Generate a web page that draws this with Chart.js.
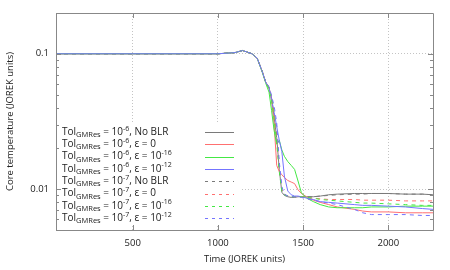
<!DOCTYPE html>
<html>
<head>
<meta charset="utf-8">
<script src="https://cdn.jsdelivr.net/npm/chart.js@4.4.1/dist/chart.umd.min.js"></script>
<style>
  html, body { margin: 0; padding: 0; background: #fff; }
  #wrap { width: 450px; height: 270px; }
</style>
</head>
<body>
<div id="wrap"><canvas id="chart"></canvas></div>
<script>
// time axis (JOREK units), shared by all runs
const time = [50, 1000, 1100, 1145, 1200, 1230, 1260, 1280, 1300, 1315, 1330, 1345, 1360, 1375, 1390, 1410,
    1430, 1450, 1470, 1490, 1520, 1560, 1600, 1650, 1700, 1800, 1850, 1900, 2000, 2100, 2200, 2262];

// Tol_GMRes = 1e-6
const tol6NoBlr = [0.1, 0.1, 0.102, 0.1057, 0.1, 0.093, 0.074, 0.062, 0.056, 0.047, 0.034, 0.024, 0.014, 0.0095, 0.0090, 0.0088,
    0.0087, 0.0087, 0.0088, 0.0088, 0.0088, 0.0088, 0.0089, 0.0091, 0.0092, 0.0093, 0.0093, 0.0093, 0.0093, 0.0092, 0.0092, 0.0091];
const tol6Eps0 = [0.1, 0.1, 0.102, 0.1057, 0.1, 0.093, 0.074, 0.062, 0.056, 0.045, 0.030, 0.015, 0.0135, 0.0128, 0.0122, 0.0116,
    0.0113, 0.0110, 0.0099, 0.0093, 0.0088, 0.0083, 0.0080, 0.0077, 0.0074, 0.0071, 0.0069, 0.0068, 0.0068, 0.0067, 0.0067, 0.0067];
const tol6Eps16 = [0.1, 0.1, 0.102, 0.1057, 0.1, 0.093, 0.073, 0.061, 0.052, 0.038, 0.027, 0.0215, 0.023, 0.0195, 0.0175, 0.0160,
    0.0150, 0.0140, 0.0115, 0.0094, 0.0086, 0.0081, 0.0077, 0.0074, 0.0073, 0.0073, 0.0073, 0.0074, 0.0074, 0.0075, 0.0075, 0.0075];
const tol6Eps12 = [0.1, 0.1, 0.102, 0.1057, 0.1, 0.093, 0.074, 0.062, 0.056, 0.046, 0.037, 0.029, 0.023, 0.019, 0.0125, 0.0097,
    0.0091, 0.0089, 0.0089, 0.0088, 0.0086, 0.0084, 0.0081, 0.0080, 0.0079, 0.0077, 0.0076, 0.0076, 0.0075, 0.0074, 0.0072, 0.0071];
// Tol_GMRes = 1e-7
const tol7NoBlr = [0.1, 0.1, 0.102, 0.1057, 0.1, 0.093, 0.074, 0.062, 0.056, 0.048, 0.036, 0.025, 0.015, 0.0098, 0.0091, 0.0089,
    0.0088, 0.0088, 0.0088, 0.0088, 0.0088, 0.0088, 0.0089, 0.0090, 0.0091, 0.0092, 0.0092, 0.0093, 0.0093, 0.0092, 0.0092, 0.0091];
const tol7Eps0 = [0.1, 0.1, 0.102, 0.1057, 0.1, 0.093, 0.074, 0.062, 0.056, 0.047, 0.035, 0.023, 0.014, 0.0100, 0.0092, 0.0089,
    0.0088, 0.0088, 0.0088, 0.0088, 0.0087, 0.0086, 0.0085, 0.0084, 0.0084, 0.0084, 0.0083, 0.0083, 0.0083, 0.0082, 0.0082, 0.0082];
const tol7Eps16 = [0.1, 0.1, 0.102, 0.1057, 0.1, 0.093, 0.074, 0.062, 0.055, 0.046, 0.033, 0.022, 0.0135, 0.0097, 0.0091, 0.0089,
    0.0088, 0.0088, 0.0088, 0.0088, 0.0087, 0.0086, 0.0084, 0.0083, 0.0082, 0.0080, 0.0079, 0.0079, 0.0078, 0.0077, 0.0076, 0.0076];
const tol7Eps12 = [0.1, 0.1, 0.102, 0.1057, 0.1, 0.093, 0.074, 0.062, 0.057, 0.049, 0.041, 0.031, 0.016, 0.0105, 0.0092, 0.0089,
    0.0088, 0.0088, 0.0088, 0.0087, 0.0085, 0.0083, 0.0081, 0.0079, 0.0077, 0.0071, 0.0067, 0.0065, 0.0065, 0.0065, 0.0064, 0.0064];

const xTicks = [500, 1000, 1500, 2000];
const yTicks = [0.01, 0.1];

const series = [tol6NoBlr, tol6Eps0, tol6Eps16, tol6Eps12, tol7NoBlr, tol7Eps0, tol7Eps16, tol7Eps12];
const tolPower = ['-6', '-6', '-6', '-6', '-7', '-7', '-7', '-7'];
const blrPower = [null, '0', '-16', '-12', null, '0', '-16', '-12'];
const colors = ['#7a7a7a', '#ff7070', '#44e844', '#7474ff'];

const FONT = '"Open Sans", sans-serif';

// legend label pieces: [text, 'sub'|'sup'|undefined]
function labelParts(i) {
    const parts = [['Tol'], ['GMRes', 'sub'], [' = 10'], [tolPower[i], 'sup']];
    if (blrPower[i] === null) {
        parts.push([', No BLR']);
    } else if (blrPower[i] === '0') {
        parts.push([', \u03b5 = 0']);
    } else {
        parts.push([', \u03b5 = 10']);
        parts.push([blrPower[i], 'sup']);
    }
    return parts;
}

const datasets = series.map((vals, i) => ({
    label: 'run' + i,
    data: vals.map((v, k) => ({ x: time[k], y: v })),
    borderColor: colors[i % 4],
    borderWidth: 1,
    borderDash: i >= 4 ? [4, 4] : [],
    pointRadius: 0,
    showLine: true,
    fill: false,
    tension: 0,
    order: 8 - i
}));

const framePlugin = {
    id: 'frame',
    afterDatasetsDraw(chart) {
        const ctx = chart.ctx;
        const a = chart.chartArea;
        ctx.save();
        // opaque key box
        ctx.fillStyle = '#fff';
        ctx.fillRect(a.left + 1, 124, 183, 102);
        const x0 = 62;
        const y0 = 132;
        const step = 12.3;
        ctx.textBaseline = 'middle';
        for (let i = 0; i < 8; i++) {
            const y = y0 + i * step;
            let x = x0;
            ctx.fillStyle = '#222';
            labelParts(i).forEach(([t, kind]) => {
                let dy = 0;
                if (kind === 'sub') { ctx.font = '7.5px ' + FONT; dy = 3; }
                else if (kind === 'sup') { ctx.font = '7px ' + FONT; dy = -3.5; }
                else { ctx.font = '10px ' + FONT; }
                ctx.fillText(t, x, y + dy);
                x += ctx.measureText(t).width;
            });
            ctx.strokeStyle = colors[i % 4];
            ctx.lineWidth = 1;
            ctx.setLineDash(i >= 4 ? [3, 4] : []);
            ctx.beginPath();
            ctx.moveTo(205, Math.round(y) + 0.5);
            ctx.lineTo(234, Math.round(y) + 0.5);
            ctx.stroke();
        }
        ctx.restore();
    },
    afterDraw(chart) {
        const ctx = chart.ctx;
        const a = chart.chartArea;
        const xs = chart.scales.x;
        const ys = chart.scales.y;
        ctx.save();
        ctx.strokeStyle = '#888';
        ctx.lineWidth = 1;
        ctx.setLineDash([]);
        ctx.beginPath();
        ctx.rect(Math.round(a.left) + 0.5, Math.round(a.top) + 0.5,
            Math.round(a.right - a.left), Math.round(a.bottom - a.top));
        // y ticks, major and minor, both sides
        for (let e = -3; e <= 0; e++) {
            for (let k = 1; k <= 9; k++) {
                const v = k * Math.pow(10, e);
                if (v < ys.min || v > ys.max) continue;
                const py = Math.round(ys.getPixelForValue(v)) + 0.5;
                const len = k === 1 ? 5 : 3;
                ctx.moveTo(a.left, py); ctx.lineTo(a.left + len, py);
                ctx.moveTo(a.right, py); ctx.lineTo(a.right - len, py);
            }
        }
        // x ticks, bottom and top
        xTicks.forEach(v => {
            const px = Math.round(xs.getPixelForValue(v)) + 0.5;
            ctx.moveTo(px, a.bottom); ctx.lineTo(px, a.bottom - 5);
            ctx.moveTo(px, a.top); ctx.lineTo(px, a.top + 5);
        });
        ctx.stroke();
        ctx.restore();
    }
};

const gridStyle = { color: '#c4c4c4', drawTicks: false, lineWidth: 1 };
const gridBorder = { display: false, dash: [1, 2] };

new Chart(document.getElementById('chart'), {
    type: 'scatter',
    data: { datasets },
    options: {
        responsive: true,
        maintainAspectRatio: false,
        animation: false,
        layout: { padding: { left: 0, right: 17, top: 13, bottom: 0 } },
        plugins: { legend: { display: false }, tooltip: { enabled: false } },
        scales: {
            x: {
                type: 'linear',
                min: 50,
                max: 2262,
                afterBuildTicks(scale) { scale.ticks = xTicks.map(value => ({ value })); },
                afterFit(scale) { scale.height = 40; },
                grid: gridStyle,
                border: gridBorder,
                ticks: { color: '#222', padding: 8, font: { family: FONT, size: 9.5 }, maxRotation: 0,
                    callback: v => String(v) },
                title: { display: true, text: 'Time (JOREK units)', color: '#222',
                    font: { family: FONT, size: 9.5 }, padding: { top: 0, bottom: 5 } }
            },
            y: {
                type: 'logarithmic',
                min: 0.005,
                max: 0.2,
                afterBuildTicks(scale) { scale.ticks = yTicks.map(value => ({ value })); },
                afterFit(scale) { scale.width = 56; },
                grid: gridStyle,
                border: gridBorder,
                ticks: { color: '#222', padding: 7, font: { family: FONT, size: 9.5 },
                    callback: v => String(v) },
                title: { display: true, text: 'Core temperature (JOREK units)', color: '#222',
                    font: { family: FONT, size: 9.5 }, padding: { top: 5, bottom: 0 } }
            }
        }
    },
    plugins: [framePlugin]
});
</script>
</body>
</html>
